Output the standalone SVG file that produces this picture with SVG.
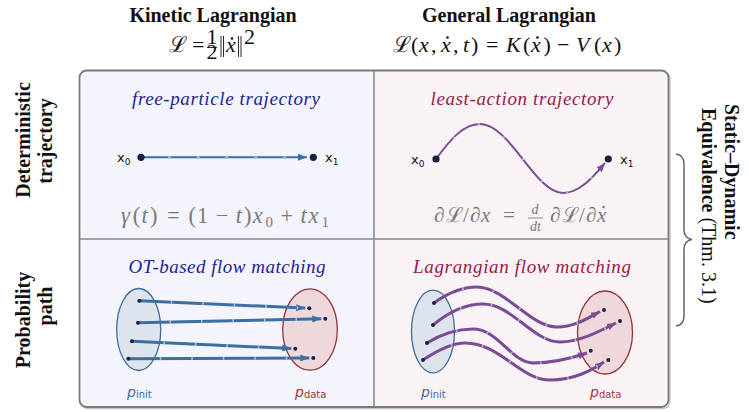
<svg xmlns="http://www.w3.org/2000/svg" width="749" height="412" viewBox="0 0 749 412">
<style>
.hdr{font-family:"Liberation Serif","DejaVu Serif",serif;font-weight:bold;font-size:20px;fill:#111}
.m{font-family:"Liberation Serif","DejaVu Serif",serif;font-size:22px;fill:#111}
.g{font-family:"Liberation Serif","DejaVu Serif",serif;font-size:21px;fill:#7a7a7a}
.i{font-style:italic}
.tb{font-family:"Liberation Serif","DejaVu Serif",serif;font-style:italic;font-size:19px;fill:#1e1e96}
.tr{font-family:"Liberation Serif","DejaVu Serif",serif;font-style:italic;font-size:19px;fill:#9a1a48}
.lab{font-family:"DejaVu Sans","Liberation Sans",sans-serif;font-size:13px;fill:#111}
.pb{font-family:"DejaVu Sans","Liberation Sans",sans-serif;font-size:14px;fill:#3d6c9c}
.pr{font-family:"DejaVu Sans","Liberation Sans",sans-serif;font-size:14px;fill:#9c3a3a}
.dot{fill:#1c1f40}
.bl{fill:none;stroke:#3c6e9f;stroke-width:3}
.pu{fill:none;stroke:#7a4c95;stroke-width:3}
.tick{fill:none;stroke:#ffffff;stroke-opacity:0.55;stroke-width:3;stroke-dasharray:1.5 30}
.ein{fill:#dde4ee;stroke:#3d6c9c;stroke-width:1.3}
.eda{fill:#eed8dc;stroke:#943434;stroke-width:1.3}
.div{stroke:#888;stroke-width:1.5;fill:none}
</style>
<defs>
<marker id="ab" markerUnits="userSpaceOnUse" markerWidth="10" markerHeight="8" refX="9" refY="4" orient="auto"><path d="M0,0.5 L9,4 L0,7.5 z" fill="#3c6e9f"/></marker>
<marker id="ap" markerUnits="userSpaceOnUse" markerWidth="10" markerHeight="8" refX="9" refY="4" orient="auto"><path d="M0,0.5 L9,4 L0,7.5 z" fill="#7a4c95"/></marker>
</defs>

<!-- headers -->
<g id="hdr-kinetic">
<text class="hdr" x="213" y="22" text-anchor="middle">Kinetic Lagrangian</text>
<text class="m" x="169" y="52">ℒ</text>
<text class="m" x="192" y="52">=</text>
<text class="m" x="212" y="44" font-size="12" text-anchor="middle">1</text>
<line x1="207" y1="47.5" x2="217" y2="47.5" stroke="#111" stroke-width="0.9"/>
<text class="m" x="212" y="59" font-size="12" text-anchor="middle">2</text>
<path d="M221,36 V57 M223.5,36 V57 M238.5,36 V57 M241,36 V57" stroke="#111" stroke-width="0.9" fill="none"/>
<text class="m i" x="226" y="52">x</text>
<circle cx="232" cy="38.5" r="1.3" fill="#111"/>
<text class="m" x="244" y="44" font-size="13">2</text>
</g>
<g id="hdr-general">
<text class="hdr" x="509" y="22" text-anchor="middle">General Lagrangian</text>
<g class="m" font-size="23">
<text x="393" y="52">ℒ</text>
<text x="411" y="52">(</text>
<text class="i" x="419" y="52">x</text>
<text x="431" y="52">,</text>
<text class="i" x="441" y="52">x</text>
<circle cx="447.5" cy="37.5" r="1.3" fill="#111"/>
<text x="453" y="52">,</text>
<text class="i" x="463" y="52">t</text>
<text x="471" y="52">)</text>
<text x="486" y="52">=</text>
<text class="i" x="506" y="52">K</text>
<text x="523" y="52">(</text>
<text class="i" x="531" y="52">x</text>
<circle cx="537.5" cy="37.5" r="1.3" fill="#111"/>
<text x="543.5" y="52">)</text>
<text x="557" y="52">−</text>
<text class="i" x="576" y="52">V</text>
<text x="594" y="52">(</text>
<text class="i" x="602" y="52">x</text>
<text x="614" y="52">)</text>
</g>
</g>

<!-- row labels -->
<g id="row-det">
<text class="hdr" transform="translate(30,140) rotate(-90)" text-anchor="middle">Deterministic</text>
<text class="hdr" transform="translate(52,141) rotate(-90)" text-anchor="middle">trajectory</text>
</g>
<g id="row-prob">
<text class="hdr" transform="translate(30,320) rotate(-90)" text-anchor="middle">Probability</text>
<text class="hdr" transform="translate(52,306) rotate(-90)" text-anchor="middle">path</text>
</g>

<!-- frame -->
<g id="frame">
<rect x="81" y="72" width="589" height="336.5" rx="7" fill="none" stroke="#c8c8c8" stroke-width="1.5"/>
<path d="M374,70.5 H86.5 Q79.5,70.5 79.5,77.5 V400 Q79.5,407 86.5,407 H374 Z" fill="#f3f4fc"/>
<path d="M374,70.5 H661.5 Q668.5,70.5 668.5,77.5 V400 Q668.5,407 661.5,407 H374 Z" fill="#f9f3f6"/>
<rect x="79.5" y="70.5" width="589" height="336.5" rx="7" fill="none" stroke="#7a7a7a" stroke-width="1.8"/>
<line class="div" x1="374" y1="70.5" x2="374" y2="407"/>
<line class="div" x1="79.5" y1="239" x2="668.5" y2="239"/>
</g>

<!-- top-left -->
<g id="cell-free">
<text class="tb" x="226" y="105" text-anchor="middle" textLength="188" lengthAdjust="spacing">free-particle trajectory</text>
<text class="lab" x="117" y="162">x<tspan font-size="9" dy="3">0</tspan></text>
<text class="lab" x="325" y="162">x<tspan font-size="9" dy="3">1</tspan></text>
<g class="g" transform="translate(121,223) scale(1.07) translate(-121,-223)">
<text class="i" x="121" y="223">γ</text>
<text x="132" y="223">(</text>
<text class="i" x="140.2" y="223">t</text>
<text x="148" y="223">)</text>
<text x="164" y="223">=</text>
<text x="184" y="223">(</text>
<text x="192" y="223">1</text>
<text x="209.5" y="223">−</text>
<text class="i" x="228.2" y="223">t</text>
<text x="236" y="223">)</text>
<text class="i" x="244.2" y="223">x</text>
<text x="256" y="227" font-size="14">0</text>
<text x="270" y="223">+</text>
<text class="i" x="288.7" y="223">t</text>
<text class="i" x="296.3" y="223">x</text>
<text x="308.3" y="227" font-size="14">1</text>
</g>
</g>

<!-- top-right -->
<g id="cell-least">
<text class="tr" x="522" y="105" text-anchor="middle" textLength="183" lengthAdjust="spacing">least-action trajectory</text>
<text class="lab" x="411" y="164">x<tspan font-size="9" dy="3">0</tspan></text>
<text class="lab" x="620" y="164">x<tspan font-size="9" dy="3">1</tspan></text>
<g class="g" font-size="22">
<text x="434" y="222">∂</text>
<text x="446" y="222">ℒ</text>
<text x="463" y="222">/</text>
<text x="470" y="222">∂</text>
<text class="i" x="481" y="222">x</text>
<text x="503" y="222">=</text>
<text class="i" x="535" y="214" font-size="14" text-anchor="middle">d</text>
<line x1="528" y1="218" x2="543" y2="218" stroke="#7a7a7a" stroke-width="0.9"/>
<text class="i" x="535.5" y="230.5" font-size="14" text-anchor="middle">dt</text>
<text x="550" y="222">∂</text>
<text x="562" y="222">ℒ</text>
<text x="579" y="222">/</text>
<text x="586" y="222">∂</text>
<text class="i" x="597" y="222">x</text>
<circle cx="603.5" cy="207" r="1.3" fill="#7a7a7a"/>
</g>
</g>

<!-- bottom-left -->
<g id="cell-ot">
<text class="tb" x="227" y="273" text-anchor="middle" textLength="197" lengthAdjust="spacing">OT-based flow matching</text>
<ellipse class="ein" cx="138.7" cy="329.5" rx="22" ry="41"/>
<ellipse class="eda" cx="310" cy="329.5" rx="27.3" ry="40.7"/>
<text class="pb" x="127" y="397"><tspan font-style="italic">p</tspan><tspan font-size="10" dy="1">init</tspan></text>
<text class="pr" x="295" y="397"><tspan font-style="italic">p</tspan><tspan font-size="10" dy="1">data</tspan></text>
</g>

<!-- bottom-right -->
<g id="cell-lag">
<text class="tr" x="522" y="273" text-anchor="middle" textLength="218" lengthAdjust="spacing">Lagrangian flow matching</text>
<ellipse class="ein" cx="433" cy="331.5" rx="21.5" ry="41.3"/>
<ellipse class="eda" cx="605" cy="332.5" rx="27.5" ry="41.5"/>
<text class="pb" x="421" y="397"><tspan font-style="italic">p</tspan><tspan font-size="10" dy="1">init</tspan></text>
<text class="pr" x="590" y="397"><tspan font-style="italic">p</tspan><tspan font-size="10" dy="1">data</tspan></text>
</g>

<!-- connectors -->
<g id="connectors">
<line x1="141" y1="157.3" x2="307" y2="157.3" stroke="#3c6e9f" stroke-width="2" marker-end="url(#ab)"/>
<g fill="#9ab6d0"><circle cx="169.5" cy="157.3" r="1.6"/><circle cx="198.3" cy="157.3" r="1.6"/><circle cx="226.7" cy="157.3" r="1.6"/><circle cx="255.7" cy="157.3" r="1.6"/><circle cx="284.3" cy="157.3" r="1.6"/></g>
<path d="M436,159 C450,140 463,124 480,124 C510,124 535,193 563,193 C580,193 594,176 605,163" fill="none" stroke="#7a4c95" stroke-width="2" marker-end="url(#ap)"/>
<path d="M436,159 C450,140 463,124 480,124 C510,124 535,193 563,193 C580,193 594,176 605,163" fill="none" stroke="#c7a8d8" stroke-width="2.2" stroke-linecap="round" stroke-dasharray="0.1 29" stroke-dashoffset="-28"/>

<path class="bl" d="M139.3,300.7 L305.3,308.1" marker-end="url(#ab)"/>
<path class="bl" d="M138,322.7 L321.3,318.8" marker-end="url(#ab)"/>
<path class="bl" d="M132,341.3 L291.3,348.5" marker-end="url(#ab)"/>
<path class="bl" d="M128.3,358.7 L309.3,358" marker-end="url(#ab)"/>
<path class="tick" d="M139.3,300.7 L300,307.9"/>
<path class="tick" d="M138,322.7 L316,318.9"/>
<path class="tick" d="M132,341.3 L286,348.3"/>
<path class="tick" d="M128.3,358.7 L304,358"/>

<path class="pu" d="M434,303 C452,290 465,287 477,287 C505,287 530,327 557,327 C575,327 588,318 600,311.5" marker-end="url(#ap)"/>
<path class="pu" d="M433,325 C450,311 468,304 483,304 C512,304 533,342 560,342 C580,342 600,331 616,323" marker-end="url(#ap)"/>
<path class="pu" d="M427,343 C443,333 458,329 473,329 C498,329 512,363 533,363 C555,363 572,358 587,353" marker-end="url(#ap)"/>
<path class="pu" d="M423,360 C438,350 452,343 465,343 C500,343 520,380 550,380 C575,380 592,370 604,362" marker-end="url(#ap)"/>
<path class="tick" d="M434,303 C452,290 465,287 477,287 C505,287 530,327 557,327 C575,327 588,318 596,313"/>
<path class="tick" d="M433,325 C450,311 468,304 483,304 C512,304 533,342 560,342 C580,342 600,331 612,325"/>
<path class="tick" d="M427,343 C443,333 458,329 473,329 C498,329 512,363 533,363 C555,363 572,358 583,354"/>
<path class="tick" d="M423,360 C438,350 452,343 465,343 C500,343 520,380 550,380 C575,380 592,370 600,364"/>
</g>

<!-- endpoint dots -->
<g id="points" class="dot">
<circle cx="141" cy="157.3" r="3.6"/><circle cx="313.3" cy="157.3" r="3.6"/>
<circle cx="436" cy="159" r="3.6"/><circle cx="608.3" cy="159" r="3.6"/>
<circle cx="139.3" cy="300.7" r="2"/><circle cx="138" cy="322.7" r="2"/><circle cx="132" cy="341.3" r="2"/><circle cx="128.3" cy="358.7" r="2"/>
<circle cx="309.3" cy="308.3" r="2"/><circle cx="325.3" cy="318.7" r="2"/><circle cx="295.3" cy="348.7" r="2"/><circle cx="313.3" cy="358" r="2"/>
<circle cx="434" cy="303" r="2"/><circle cx="433" cy="325" r="2"/><circle cx="427" cy="343" r="2"/><circle cx="423" cy="360" r="2"/>
<circle cx="604" cy="310" r="2"/><circle cx="620" cy="321" r="2"/><circle cx="590.7" cy="350.7" r="2"/><circle cx="608.3" cy="360" r="2"/>
</g>

<!-- right annotation -->
<g id="equivalence">
<path d="M676,154 Q684,155 684,164 L684,230 Q684,238 692,239.5 Q684,241 684,249 L684,316 Q684,325 676,326" fill="none" stroke="#666" stroke-width="1.5"/>
<text class="hdr" font-size="21" transform="translate(725,104) rotate(90)">Static–Dynamic</text>
<text class="hdr" font-size="21" transform="translate(702,108) rotate(90)">Equivalence <tspan font-weight="normal">(Thm. 3.1)</tspan></text>
</g>
</svg>
